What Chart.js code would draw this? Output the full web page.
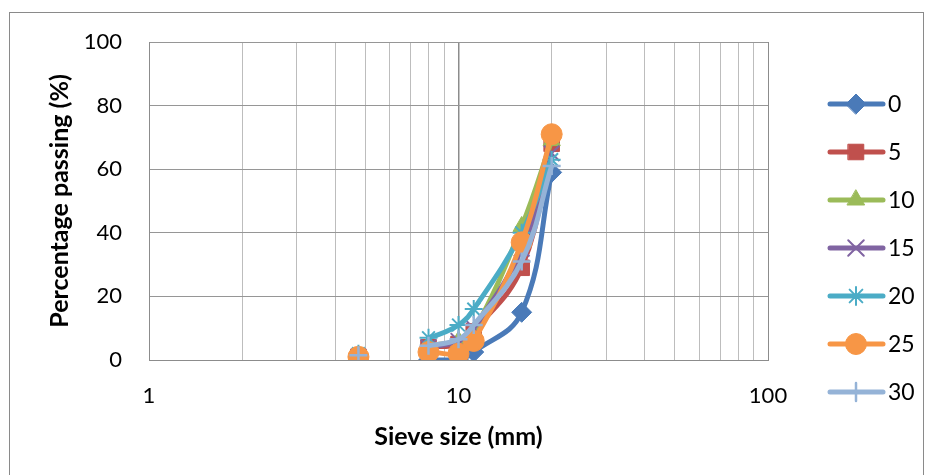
<!DOCTYPE html>
<html>
<head>
<meta charset="utf-8">
<script src="https://cdn.jsdelivr.net/npm/chart.js@4"></script>
<style>
  html, body { margin: 0; padding: 0; background: #fff; }
  #wrap { position: relative; width: 928px; height: 475px; overflow: hidden; }
  #frame { position: absolute; left: 9px; top: 12px; width: 915px; height: 480px; border: 1px solid #8a8a8a; box-sizing: border-box; }
  canvas { position: absolute; left: 0; top: 0; }
</style>
</head>
<body>
<div id="wrap">
  <div id="frame"></div>
  <canvas id="myChart" width="928" height="475"></canvas>
</div>
<script>
// sieve sizes (mm) and percentage passing for each mix
const sieveSizes = [4.75, 8, 10, 11.2, 16, 20];
const mixNames = ['0', '5', '10', '15', '20', '25', '30'];
const pass0  = [0, 0, 0, 2.5, 15, 59];
const pass5  = [1, 4, 5, 9, 29, 68];
const pass10 = [1, 4.5, 6, 9, 42, 69];
const pass15 = [1, 4, 6, 10, 35, 65];
const pass20 = [2, 7, 11, 16, 40, 63];
const pass25 = [1, 2.5, 2, 6, 37, 71];
const pass30 = [1.5, 4.5, 6.5, 11, 31, 61];

const xTickValues = [1, 2, 3, 4, 5, 6, 7, 8, 9, 10, 20, 30, 40, 50, 60, 70, 80, 90, 100];
const xTickLabels = ['1', '10', '100'];
const yTickValues = [0, 20, 40, 60, 80, 100];

const allPass = [pass0, pass5, pass10, pass15, pass20, pass25, pass30];
const colors = ['#4a7ab8', '#c0504d', '#9bbb59', '#8064a2', '#4bacc6', '#f79646', '#95b3d7'];
const styles = ['rectRot', 'rect', 'triangle', 'crossRot', 'star', 'circle', 'cross'];
const radii = [10, 11, 10, 11, 9, 10.5, 9];
const markerBorder = [1, 1, 1, 2, 2, 1, 2.5];

const FONT = 'Lato, "Open Sans", sans-serif';

const datasets = allPass.map((vals, i) => ({
  label: mixNames[i],
  data: vals.map((v, j) => ({x: sieveSizes[j], y: v})),
  borderColor: colors[i],
  backgroundColor: colors[i],
  pointBackgroundColor: colors[i],
  pointBorderColor: colors[i],
  pointStyle: styles[i],
  pointRadius: radii[i],
  pointBorderWidth: markerBorder[i],
  borderWidth: 5,
  tension: 0.4,
  // the first sieve is plotted as a lone marker, no line to the next one
  segment: { borderColor: (c) => c.p0DataIndex === 0 ? 'rgba(0,0,0,0)' : undefined },
  order: 6 - i
}));

// legend drawn at the right like the spreadsheet one (line + marker)
const sideLegend = {
  id: 'sideLegend',
  afterDraw(chart) {
    const ctx = chart.ctx;
    ctx.save();
    chart.data.datasets.forEach((ds, i) => {
      const y = 104 + 48 * i;
      ctx.strokeStyle = ds.borderColor;
      ctx.lineWidth = 5;
      ctx.lineCap = 'round';
      ctx.beginPath();
      ctx.moveTo(830, y);
      ctx.lineTo(883, y);
      ctx.stroke();
      ctx.fillStyle = ds.pointBackgroundColor;
      ctx.strokeStyle = ds.pointBorderColor;
      ctx.lineWidth = ds.pointBorderWidth;
      Chart.helpers.drawPoint(ctx, {pointStyle: ds.pointStyle, radius: ds.pointRadius, rotation: 0, borderWidth: ds.pointBorderWidth}, 856, y);
      ctx.fillStyle = '#000';
      ctx.font = '23px ' + FONT;
      ctx.textAlign = 'left';
      ctx.textBaseline = 'middle';
      ctx.fillText(ds.label, 888, y + 1);
    });
    ctx.restore();
  }
};

const ctx = document.getElementById('myChart');

new Chart(ctx, {
  type: 'line',
  data: { datasets: datasets },
  plugins: [sideLegend],
  options: {
    responsive: false,
    animation: false,
    layout: { padding: { left: 0, top: 42, right: 160, bottom: 0 } },
    plugins: { legend: { display: false }, tooltip: { enabled: false } },
    scales: {
      x: {
        type: 'logarithmic',
        min: 1,
        max: 100,
        afterBuildTicks: (scale) => { scale.ticks = xTickValues.map(v => ({value: v})); },
        afterFit: (scale) => { scale.height = 115; },
        ticks: {
          autoSkip: false,
          maxRotation: 0,
          padding: 23,
          color: '#000',
          font: { family: FONT, size: 22 },
          callback: (v) => xTickLabels.includes(String(v)) ? String(v) : ''
        },
        grid: {
          drawTicks: false,
          color: (c) => (c.tick && [1, 10, 100].includes(c.tick.value)) ? '#8c8c8c' : '#bdbdbd',
          lineWidth: (c) => (c.tick && c.tick.value === 10) ? 1.5 : 1
        },
        border: { color: '#8c8c8c' },
        title: {
          display: true,
          text: 'Sieve size (mm)',
          color: '#000',
          font: { family: FONT, size: 25, weight: 'bold' },
          padding: { top: 0, bottom: 23 }
        }
      },
      y: {
        min: 0,
        max: 100,
        afterBuildTicks: (scale) => { scale.ticks = yTickValues.map(v => ({value: v})); },
        afterFit: (scale) => { scale.width = 149; },
        ticks: {
          padding: 27,
          color: '#000',
          font: { family: FONT, size: 22 }
        },
        grid: { drawTicks: false, color: '#969696' },
        border: { color: '#8c8c8c' },
        title: {
          display: true,
          text: 'Percentage passing (%)',
          color: '#000',
          font: { family: FONT, size: 25, weight: 'bold' },
          padding: { top: 45, bottom: 0 }
        }
      }
    }
  }
});
</script>
</body>
</html>
